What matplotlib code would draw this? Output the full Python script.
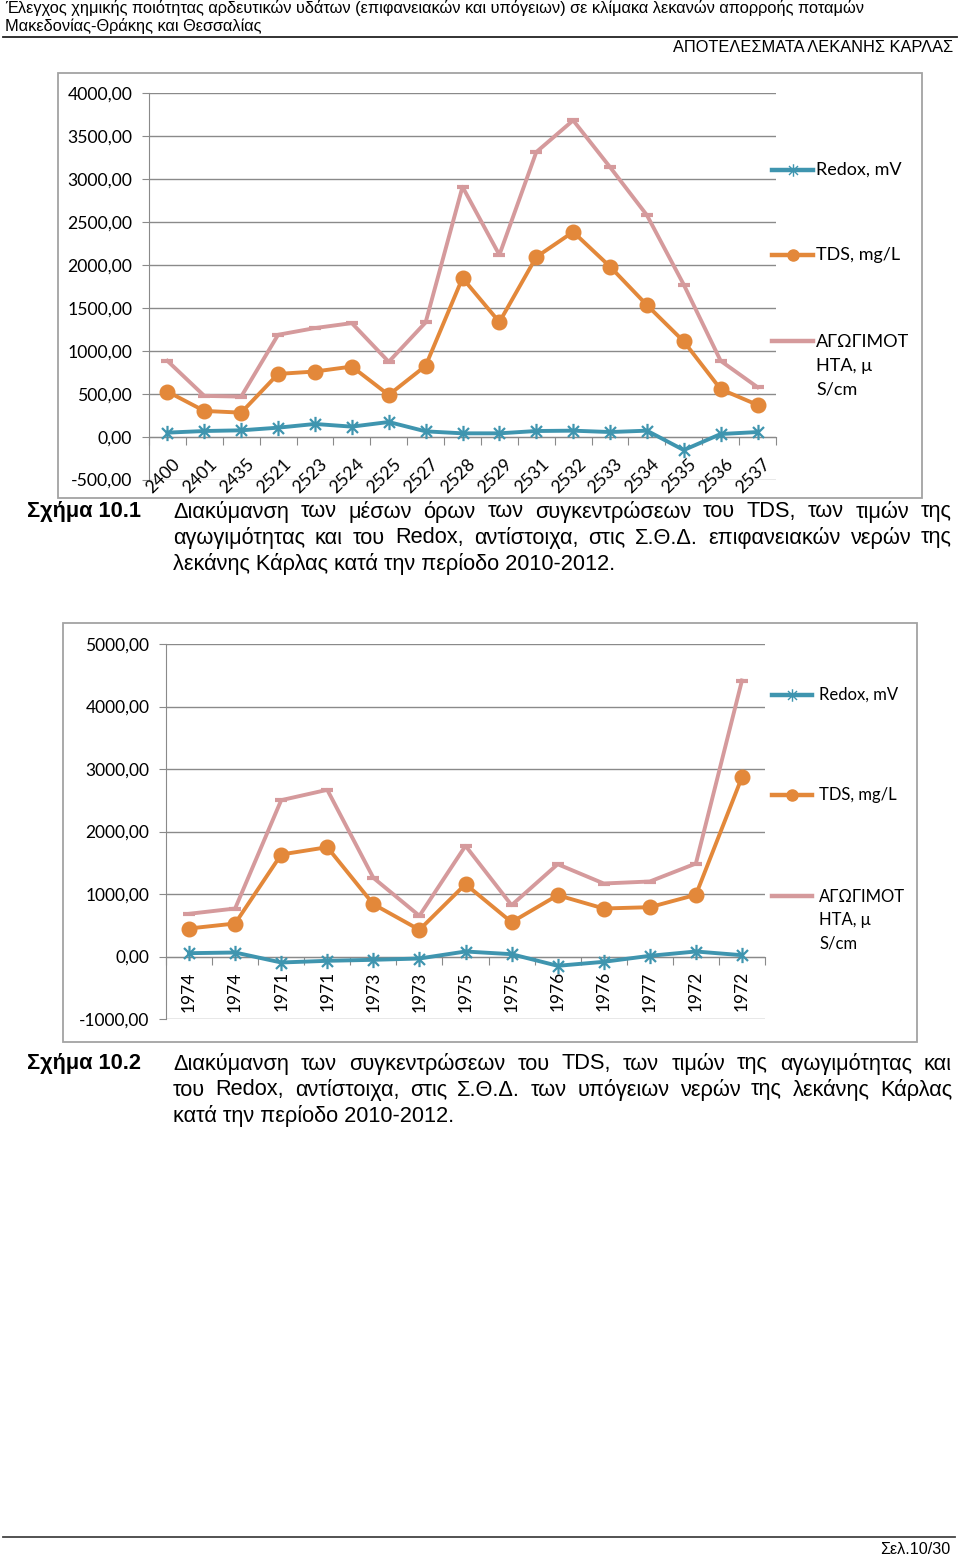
import numpy as np
import matplotlib
matplotlib.use('Agg')
import matplotlib.pyplot as plt
from matplotlib.path import Path
from matplotlib.lines import Line2D
from matplotlib.patches import Rectangle

W, H = 960, 1559

# ---------------- data ----------------
stations1 = ['2400', '2401', '2435', '2521', '2523', '2524', '2525', '2527', '2528',
             '2529', '2531', '2532', '2533', '2534', '2535', '2536', '2537']
redox1 = [47, 66, 74, 105, 148, 117, 171, 62, 39, 39, 66, 70, 54, 70, -156, 31, 54]
tds1 = [525, 300, 280, 731, 759, 817, 486, 825, 1848, 1335, 2093, 2385, 1981, 1533, 1109, 553, 370]
cond1 = [883, 475, 467, 1187, 1265, 1323, 872, 1331, 2911, 2117, 3315, 3685, 3140, 2580, 1770, 883, 576]

stations2 = ['1974', '1974', '1971', '1971', '1973', '1973', '1975', '1975', '1976',
             '1976', '1977', '1972', '1972']
redox2 = [53, 64, -96, -69, -53, -32, 80, 37, -149, -85, 11, 80, 21]
tds2 = [448, 528, 1632, 1749, 837, 427, 1157, 549, 981, 768, 789, 987, 2869]
cond2 = [683, 768, 2501, 2667, 1259, 651, 1771, 821, 1477, 1168, 1200, 1488, 4416]

series_labels = ['Redox, mV', 'TDS, mg/L', 'ΑΓΩΓΙΜΟΤ\nΗΤΑ, μ\nS/cm']

header1 = 'Έλεγχος χημικής ποιότητας αρδευτικών υδάτων (επιφανειακών και υπόγειων) σε κλίμακα λεκανών απορροής ποταμών'
header2 = 'Μακεδονίας-Θράκης και Θεσσαλίας'
header3 = 'ΑΠΟΤΕΛΕΣΜΑΤΑ ΛΕΚΑΝΗΣ ΚΑΡΛΑΣ'
footer = 'Σελ.10/30'
cap1_label = 'Σχήμα 10.1'
cap1_lines = ['Διακύμανση των μέσων όρων των συγκεντρώσεων του TDS, των τιμών της',
              'αγωγιμότητας και του Redox, αντίστοιχα, στις Σ.Θ.Δ. επιφανειακών νερών της',
              'λεκάνης Κάρλας κατά την περίοδο 2010-2012.']
cap2_label = 'Σχήμα 10.2'
cap2_lines = ['Διακύμανση των συγκεντρώσεων του TDS, των τιμών της αγωγιμότητας και',
              'του Redox, αντίστοιχα, στις Σ.Θ.Δ. των υπόγειων νερών της λεκάνης Κάρλας',
              'κατά την περίοδο 2010-2012.']

# ---------------- styles ----------------
C_REDOX = '#3F95AF'
C_TDS = '#E3883A'
C_COND = '#D59A9C'
C_GRID = '#8A8A8A'
C_FRAME = '#A3A3A3'
CH_FONT = ['Lato', 'Noto Sans', 'DejaVu Sans']
PG_FONT = ['Liberation Sans', 'DejaVu Sans']

star = Path([(0, -1), (0, 1), (-0.72, -0.72), (0.72, 0.72), (-0.72, 0.72), (0.72, -0.72)],
            [Path.MOVETO, Path.LINETO, Path.MOVETO, Path.LINETO, Path.MOVETO, Path.LINETO])

fig = plt.figure(figsize=(W / 100, H / 100), dpi=100)
fig.patch.set_facecolor('white')


def fx(x):
    return x / W


def fy(y):
    return 1 - y / H


def fmt(v, pos=None):
    return f'{v:.2f}'.replace('.', ',')


def make_chart(box, frame, ylim, ystep, cats, redox, tds, cond, xlab_cfg, leg_cfg, fs_tick, fs_leg):
    left, right, top, bottom = box
    fig.add_artist(Rectangle((fx(frame[0]), fy(frame[3])), (frame[2] - frame[0]) / W,
                             (frame[3] - frame[1]) / H, transform=fig.transFigure,
                             fill=False, ec=C_FRAME, lw=1.3))
    ax = fig.add_axes([fx(left), fy(bottom), (right - left) / W, (bottom - top) / H])
    n = len(cats)
    x = np.arange(n)
    ax.set_xlim(-0.5, n - 0.5)
    ax.set_ylim(*ylim)
    ax.set_yticks(np.arange(ylim[0], ylim[1] + 1, ystep))
    ax.yaxis.set_major_formatter(matplotlib.ticker.FuncFormatter(fmt))
    ax.grid(axis='y', color=C_GRID, lw=1.0)
    ax.set_axisbelow(True)
    for s in ['top', 'right']:
        ax.spines[s].set_visible(False)
    ax.spines['left'].set_color(C_GRID)
    ax.spines['bottom'].set_color(C_GRID)
    ax.spines['bottom'].set_position(('data', 0))
    ax.set_xticks(np.arange(n + 1) - 0.5)
    ax.set_xticklabels([])
    ax.tick_params(axis='x', length=6, color=C_GRID, direction='out')
    ax.tick_params(axis='y', length=5, color=C_GRID, direction='out', labelsize=fs_tick, pad=7)
    for lab in ax.get_yticklabels():
        lab.set_fontfamily(CH_FONT)
    ax.set_facecolor('none')

    ax.plot(x, cond, color=C_COND, lw=2.8, marker='_', ms=9, mew=3.0, zorder=3)
    ax.plot(x, tds, color=C_TDS, lw=2.8, marker='o', ms=10.5, zorder=4)
    ax.plot(x, redox, color=C_REDOX, lw=2.8, marker=star, ms=11, mew=1.6, zorder=5)

    rot, ydat, dx, ha, va, rm = xlab_cfg
    for i, c in enumerate(cats):
        ax.text(i + dx, ydat, c, rotation=rot, ha=ha, va=va, rotation_mode=rm,
                fontsize=fs_tick, fontfamily=CH_FONT, clip_on=False)

    # legend (manual)
    lx0, lx1, tx, ys, lsp = leg_cfg
    lm = (lx0 + lx1) / 2
    specs = [
        dict(color=C_REDOX, marker=star, ms=9, mew=1.0),
        dict(color=C_TDS, marker='o', ms=8),
        dict(color=C_COND, marker=None),
    ]
    for k, (sp, lab, yy) in enumerate(zip(specs, series_labels, ys)):
        ln = Line2D([fx(lx0), fx(lm), fx(lx1)], [fy(yy)] * 3, transform=fig.transFigure,
                    lw=3.2, markevery=[1], **sp)
        fig.add_artist(ln)
        if '\n' in lab:
            fig.text(fx(tx), fy(yy - 7), lab, ha='left', va='top', fontsize=fs_leg,
                     fontfamily=CH_FONT, linespacing=lsp)
        else:
            fig.text(fx(tx), fy(yy), lab, ha='left', va='center', fontsize=fs_leg,
                     fontfamily=CH_FONT)
    return ax


make_chart((149, 776, 93.3, 479.6), (57.7, 72.7, 921.7, 497.7), (-500, 4000), 500,
           stations1, redox1, tds1, cond1,
           (45, -225, 0.12, 'right', 'top', 'anchor'),
           (772, 813, 816, [170, 255, 341], 1.58), 12.7, 13)

make_chart((166, 765, 644, 1019), (62.7, 622.7, 917, 1041.7), (-1000, 5000), 1000,
           stations2, redox2, tds2, cond2,
           (90, -235, 0.0, 'center', 'top', 'default'),
           (772, 812, 819, [695, 795, 896], 1.55), 12.5, 12)

# ---------------- page text ----------------
HDR_FS = 11.8
fig.text(fx(5), fy(8), header1, ha='left', va='center', fontsize=HDR_FS, fontfamily=PG_FONT)
fig.text(fx(5), fy(26), header2, ha='left', va='center', fontsize=HDR_FS, fontfamily=PG_FONT)
fig.add_artist(Line2D([fx(3), fx(957)], [fy(36.5)] * 2, transform=fig.transFigure, color='#222222', lw=1.3))
fig.text(fx(953), fy(48), header3, ha='right', va='center', fontsize=HDR_FS, fontfamily=PG_FONT)
fig.add_artist(Line2D([fx(3), fx(955)], [fy(1537)] * 2, transform=fig.transFigure, color='#444444', lw=1.3))
fig.text(fx(950), fy(1550), footer, ha='right', va='center', fontsize=11.6, fontfamily=PG_FONT)

renderer = fig.canvas.get_renderer()
CAP_FS = 15.7


def caption(label, lines, y0, x_text=173, x_right=952, dy=26):
    fig.text(fx(27), fy(y0), label, ha='left', va='center', fontsize=CAP_FS, fontweight='bold',
             fontfamily=PG_FONT)
    for li, line in enumerate(lines):
        yy = y0 + li * dy
        words = line.split(' ')
        if li == len(lines) - 1:
            fig.text(fx(x_text), fy(yy), line, ha='left', va='center', fontsize=CAP_FS,
                     fontfamily=PG_FONT)
            continue
        arts = [fig.text(0, fy(yy), w, ha='left', va='center', fontsize=CAP_FS,
                         fontfamily=PG_FONT) for w in words]
        widths = [a.get_window_extent(renderer).width for a in arts]
        gap = (x_right - x_text - sum(widths)) / (len(words) - 1)
        xc = x_text
        for a, wd in zip(arts, widths):
            a.set_x(fx(xc))
            xc += wd + gap


caption(cap1_label, cap1_lines, 512)
caption(cap2_label, cap2_lines, 1064)

fig.savefig('out.png', dpi=100, facecolor='white')
